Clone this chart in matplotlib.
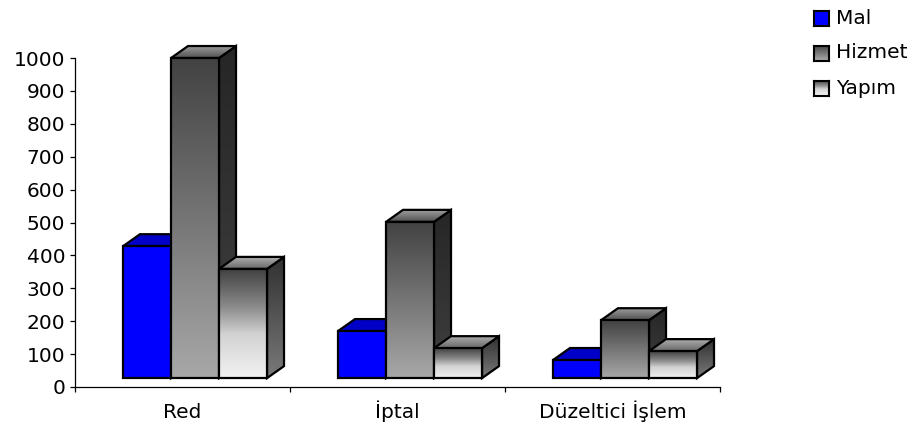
import numpy as np
import matplotlib.pyplot as plt
from matplotlib.colors import LinearSegmentedColormap
from matplotlib.patches import Polygon


CATEGORIES = ["Red", "İptal", "Düzeltici İşlem"]
SERIES = ["Mal", "Hizmet", "Yapım"]
MAL = [428, 170, 82]
HIZMET = [1000, 502, 203]
YAPIM = [359, 118, 109]
Y_TICKS = list(range(0, 1001, 100))

FIG_SIZE = (9.2, 4.28)
DPI = 100
FONT_SIZE = 14.5

# Bar geometry (data units): width, offset in the group, 3D depth, floor.
BAR_W = 0.2233
GROUP_OFFSET = 0.2233
DX = 0.079
DY = 36.5
BASE = 27

GRAD = np.linspace(0, 1, 256).reshape(-1, 1)


def cmap(name, colors):
    return LinearSegmentedColormap.from_list(name, colors)


# Face colours per series: front, top, side (bottom -> top).
STYLES = {
    "Mal": {
        "front": cmap("mf", ["#0000ff", "#0000ff"]),
        "top": cmap("mt", ["#0000c8", "#0000c8"]),
        "side": cmap("ms", ["#000090", "#000090"]),
    },
    "Hizmet": {
        "front": cmap("hf", ["#a8a8a8", "#424242"]),
        "top": cmap("ht", ["#505050", "#a4a4a4"]),
        "side": cmap("hs", ["#404040", "#262626"]),
    },
    "Yapım": {
        "front": cmap("yf", [(0, "#f2f2f2"), (0.4, "#d2d2d2"),
                             (0.65, "#8a8a8a"), (1, "#404040")]),
        "top": cmap("yt", ["#686868", "#b4b4b4"]),
        "side": cmap("ys", ["#7a7a7a", "#303030"]),
    },
}


def draw_face(ax, verts, face_cmap, z):
    """Draw a gradient-filled polygon with a black outline."""
    poly = Polygon(verts, closed=True, facecolor="none", edgecolor="black",
                   linewidth=1.6, joinstyle="miter", zorder=z + 0.5)
    ax.add_patch(poly)
    xs = [v[0] for v in verts]
    ys = [v[1] for v in verts]
    im = ax.imshow(GRAD, cmap=face_cmap, origin="lower", aspect="auto",
                   extent=[min(xs), max(xs), min(ys), max(ys)],
                   interpolation="bilinear", zorder=z)
    im.set_clip_path(poly)


def draw_bar(ax, x0, value, style, z):
    x1 = x0 + BAR_W
    y0, y1 = BASE, value
    side = [(x1, y0), (x1 + DX, y0 + DY), (x1 + DX, y1 + DY), (x1, y1)]
    top = [(x0, y1), (x1, y1), (x1 + DX, y1 + DY), (x0 + DX, y1 + DY)]
    front = [(x0, y0), (x1, y0), (x1, y1), (x0, y1)]
    draw_face(ax, side, style["side"], z)
    draw_face(ax, top, style["top"], z + 1)
    draw_face(ax, front, style["front"], z + 2)


fig = plt.figure(figsize=FIG_SIZE, dpi=DPI)
ax = fig.add_axes([75 / 920, 41 / 428, 645 / 920, 348.7 / 428])

series_values = [MAL, HIZMET, YAPIM]
z = 2
for i in range(len(CATEGORIES)):
    for k, name in enumerate(SERIES):
        x0 = i - 0.5 + GROUP_OFFSET + k * BAR_W
        draw_bar(ax, x0, series_values[k][i], STYLES[name], z)
        z += 3

ax.set_xlim(-0.5, len(CATEGORIES) - 0.5)
ax.set_ylim(0, 1060)

for side in ("top", "right"):
    ax.spines[side].set_visible(False)
ax.spines["left"].set_bounds(0, 1000)
for side in ("left", "bottom"):
    ax.spines[side].set_linewidth(0.9)
    ax.spines[side].set_color("black")

ax.set_yticks(Y_TICKS)
ax.tick_params(axis="y", length=3.6, width=0.9, pad=3.5, labelsize=FONT_SIZE)

ax.set_xticks(np.arange(-0.5, len(CATEGORIES)), labels=[])
ax.set_xticks(np.arange(len(CATEGORIES)), labels=CATEGORIES, minor=True)
ax.tick_params(axis="x", which="major", length=3.6, width=0.9)
ax.tick_params(axis="x", which="minor", length=0, pad=22, labelsize=FONT_SIZE)
# Align the category labels on a common baseline.
for label in ax.get_xticklabels(minor=True):
    label.set_verticalalignment("baseline")

# Legend drawn by hand so the swatches can carry the gradients.
legend_rows = [18, 53, 88]
for name, row in zip(SERIES, legend_rows):
    sw = fig.add_axes([814 / 920, (428 - row - 7.5) / 428, 15 / 920, 15 / 428])
    sw.imshow(GRAD, cmap=STYLES[name]["front"], origin="lower",
              aspect="auto", interpolation="bilinear")
    sw.set_xticks([])
    sw.set_yticks([])
    for spine in sw.spines.values():
        spine.set_linewidth(1.5)
        spine.set_color("black")
    fig.text(836 / 920, 1 - row / 428, name, va="center", ha="left",
             fontsize=FONT_SIZE)

fig.savefig("out.png", dpi=DPI)
